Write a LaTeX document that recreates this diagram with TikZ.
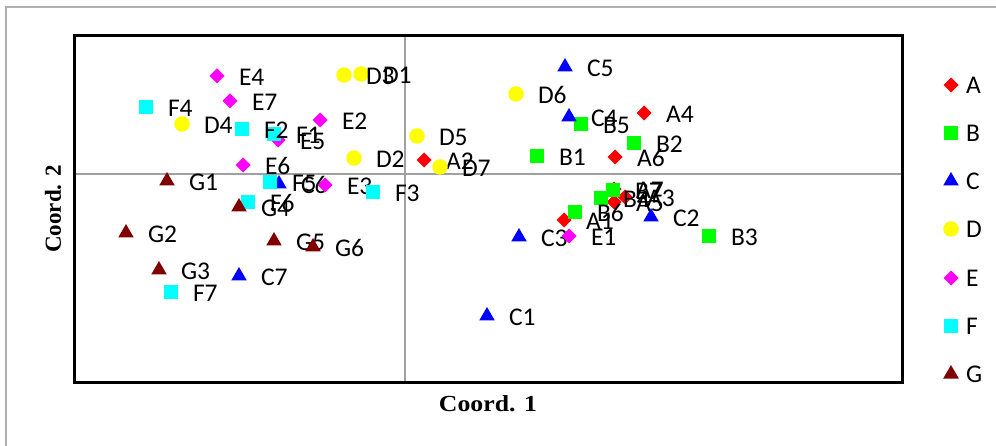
\documentclass[tikz,border=0pt]{standalone}
\usepackage{fontspec}
\setmainfont{Carlito}
\newfontfamily\titlefont{Liberation Serif}
\usetikzlibrary{shapes.geometric}
\definecolor{cA}{RGB}{255,0,0}
\definecolor{cB}{RGB}{0,255,0}
\definecolor{cC}{RGB}{0,0,255}
\definecolor{cD}{RGB}{255,255,0}
\definecolor{cE}{RGB}{255,0,255}
\definecolor{cF}{RGB}{0,255,255}
\definecolor{cG}{RGB}{128,0,0}
\definecolor{axgray}{RGB}{160,160,160}
\definecolor{outgray}{RGB}{175,175,175}
\tikzset{
  mk/.style={inner sep=0pt, outer sep=0pt, draw=none},
  mA/.style={mk, diamond, fill=cA, minimum width=15pt, minimum height=15pt},
  mB/.style={mk, rectangle, fill=cB, minimum size=14.5pt},
  mC/.style={mk, regular polygon, regular polygon sides=3, fill=cC, minimum size=18pt},
  mD/.style={mk, circle, fill=cD, minimum size=15.5pt},
  mE/.style={mk, diamond, fill=cE, minimum width=15pt, minimum height=15pt},
  mF/.style={mk, rectangle, fill=cF, minimum size=14.5pt},
  mG/.style={mk, regular polygon, regular polygon sides=3, fill=cG, minimum size=18pt},
  lbl/.style={inner sep=0pt, outer sep=0pt, anchor=base west, font=\fontsize{25.5}{30}\selectfont},
  axtitle/.style={inner sep=0pt, font=\titlefont\bfseries\fontsize{23}{27}\selectfont}
}
\newcommand{\dpt}[4]{%
  \node[m#2] (p#1) at (#3,#4) {};
  \node[lbl] (l#1) at (#3+22,#4+9.5) {#1};}
\newcommand{\lgd}[2]{%
  \node[m#1] (k#1) at (951,#2) {};
  \node[lbl] (t#1) at (966,#2+8.5) {#1};}
\begin{document}
\begin{tikzpicture}[x=1pt,y=-1pt]
\useasboundingbox (0,0) rectangle (996,446);
\coordinate (o1) at (6,446);
\coordinate (o2) at (6,7);
\coordinate (o3) at (996,7);
\draw[outgray, line width=2pt] (o1) -- (o2) -- (o3);
% axes
\coordinate (vx1) at (405,36);
\coordinate (vx2) at (405,382);
\coordinate (hz1) at (74,174);
\coordinate (hz2) at (902,174);
\draw[axgray, line width=1.5pt] (vx1) -- (vx2);
\draw[axgray, line width=1.5pt] (hz1) -- (hz2);
\node[draw=black, line width=3pt, inner sep=0pt, minimum width=828pt, minimum height=346pt] (frame) at (488,209) {};
% series A
\dpt{A1}{A}{564}{220}
\dpt{A2}{A}{424}{160}
\dpt{A3}{A}{625}{197}
\dpt{A4}{A}{644}{113}
\dpt{A5}{A}{614}{202}
\dpt{A6}{A}{615}{157}
\dpt{A7}{A}{614}{189}
% series B
\dpt{B1}{B}{537}{156}
\dpt{B2}{B}{634}{143}
\dpt{B3}{B}{709}{236}
\dpt{B4}{B}{601}{198}
\dpt{B5}{B}{581}{124}
\dpt{B6}{B}{575}{212}
\dpt{B7}{B}{613}{190}
% series C
\dpt{C1}{C}{487}{316}
\dpt{C2}{C}{651}{217}
\dpt{C3}{C}{519}{237}
\dpt{C4}{C}{569}{117}
\dpt{C5}{C}{565}{67}
\dpt{C6}{C}{279}{184}
\dpt{C7}{C}{239}{276}
% series D
\dpt{D1}{D}{361}{74}
\dpt{D2}{D}{354}{158}
\dpt{D3}{D}{344}{75}
\dpt{D4}{D}{182}{124}
\dpt{D5}{D}{417}{136}
\dpt{D6}{D}{516}{94}
\dpt{D7}{D}{440}{167}
% series E
\dpt{E1}{E}{569}{236}
\dpt{E2}{E}{320}{120}
\dpt{E3}{E}{325}{185}
\dpt{E4}{E}{217}{76}
\dpt{E5}{E}{278}{140}
\dpt{E6}{E}{243}{165}
\dpt{E7}{E}{230}{101}
% series F
\dpt{F1}{F}{274}{134}
\dpt{F2}{F}{242}{129}
\dpt{F3}{F}{373}{192}
\dpt{F4}{F}{146}{107}
\dpt{F5}{F}{270}{182}
\dpt{F6}{F}{248}{202}
\dpt{F7}{F}{171}{292}
% series G
\dpt{G1}{G}{167}{181}
\dpt{G2}{G}{126}{233}
\dpt{G3}{G}{159}{270}
\dpt{G4}{G}{239}{207}
\dpt{G5}{G}{274}{241}
\dpt{G6}{G}{313}{247}
% legend
\lgd{A}{85}
\lgd{B}{133}
\lgd{C}{181}
\lgd{D}{229}
\lgd{E}{278}
\lgd{F}{326}
\lgd{G}{374}
% axis titles
\node[axtitle, xscale=1.12] (xt) at (488,404) {Coord. 1};
\node[axtitle, rotate=90] (yt) at (53,209) {Coord. 2};
\end{tikzpicture}
\end{document}
